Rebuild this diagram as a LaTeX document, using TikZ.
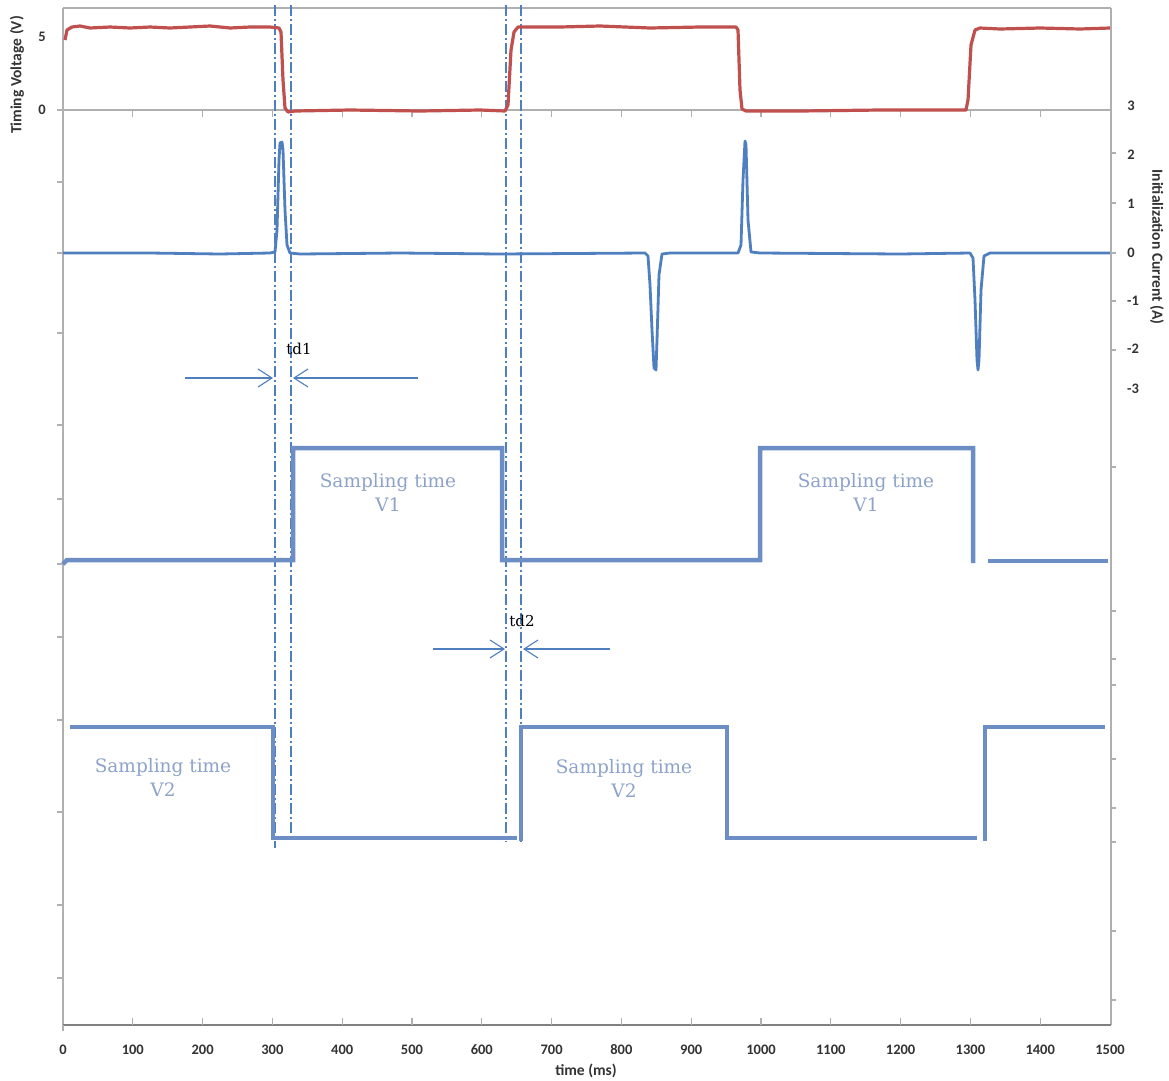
\documentclass[tikz,border=0pt]{standalone}
\usepackage{fontspec}
\setmainfont{Carlito}
\newfontfamily\serifA{DejaVu Serif}
\usetikzlibrary{arrows.meta}
\definecolor{axisgray}{HTML}{B0B0B0}
\definecolor{basegray}{HTML}{808080}
\definecolor{redv}{HTML}{C0504D}
\definecolor{bluec}{HTML}{4F7FBF}
\definecolor{bluesamp}{HTML}{6D8EC4}
\definecolor{txtblue}{HTML}{8DA3C9}
\definecolor{labgray}{HTML}{333333}
\definecolor{dashblue}{HTML}{4F7FBF}
\tikzset{
  axisline/.style={draw=axisgray, line width=1.6pt},
  baseline/.style={draw=basegray, line width=1.6pt},
  tickmark/.style={draw=axisgray, line width=1.2pt},
  ticklab/.style={font=\bfseries\fontsize{14.5}{16}\selectfont, text=labgray, inner sep=0pt},
  axtitle/.style={font=\bfseries\fontsize{15.5}{17}\selectfont, text=labgray, inner sep=0pt},
  voltwave/.style={draw=redv, line width=3.2pt, line join=round},
  curwave/.style={draw=bluec, line width=2.8pt, line join=round},
  sampwave/.style={draw=bluesamp, line width=4.5pt},
  guide/.style={draw=dashblue, line width=1.1pt, dash pattern=on 11pt off 3pt on 2pt off 3pt},
  tdarrow/.style={draw=bluec, line width=1.1pt, -{Straight Barb[length=14pt,width=18pt,line width=1.1pt]}},
  samptext/.style={font=\serifA\fontsize{18.5}{24}\selectfont, text=txtblue, align=center, inner sep=0pt},
  tdtext/.style={font=\serifA\fontsize{15}{18}\selectfont, text=black, inner sep=0pt}
}
\begin{document}
\begin{tikzpicture}[x=1pt,y=-1pt]
\useasboundingbox (0,0) rectangle (1169,1080);
\fill[white] (0,0) rectangle (1169,1080);

% frame and axes
\draw[axisline] (63,8) -- (1111,8);
\draw[axisline] (63,8) -- (63,1025);
\draw[axisline] (1111,8) -- (1111,1025);
\draw[axisline] (57,110) -- (1111,110);
\draw[baseline] (63,1025) -- (1111,1025);

% left ticks
\foreach \yy in {182,253,333,425,499,564,637,720,812,905,978}
  \draw[tickmark] (57,\yy) -- (63,\yy);
% right ticks
\foreach \yy in {153,203,253,301,350,467,611,659,685,759,808,842,931,1000}
  \draw[tickmark] (1111,\yy) -- (1116,\yy);
% bottom ticks
\foreach \i in {1,...,14}
  \draw[tickmark] ({63+69.8*\i},1025) -- ({63+69.8*\i},1018);
\draw[tickmark] (63,1025) -- (63,1031);
% ticks on voltage zero line
\foreach \i in {1,...,14}
  \draw[tickmark] ({63+69.8*\i},110) -- ({63+69.8*\i},117);

% tick labels
\node[ticklab] (v5) at (42,37) {5};
\node[ticklab] (v0) at (42,110) {0};
\node[ticklab] (c3) at (1131,106) {3};
\node[ticklab] (c2) at (1131,155) {2};
\node[ticklab] (c1) at (1131,204) {1};
\node[ticklab] (c0) at (1131,253) {0};
\node[ticklab] (cm1) at (1133,301) {-1};
\node[ticklab] (cm2) at (1133,349) {-2};
\node[ticklab] (cm3) at (1133,389) {-3};
\foreach \i in {0,...,15}{
  \pgfmathtruncatemacro{\lab}{100*\i}
  \node[ticklab] (t\i) at ({63+69.8*\i},1050) {\lab};
}
\node[axtitle] (xtitle) at (586,1071) {time (ms)};
\node[axtitle, rotate=90] (ltitle) at (17,75) {Timing Voltage (V)};
\node[axtitle, rotate=-90] (rtitle) at (1157,247) {Initialization Current (A)};

% guide lines (dash-dot)
\draw[guide] (275,5) -- (275,848);
\draw[guide] (291,5) -- (291,835);
\draw[guide] (506,5) -- (506,842);
\draw[guide] (521,5) -- (521,842);

% timing voltage (red)
\draw[voltwave] (65,40) -- (67,30) -- (72,27) -- (80,26) -- (90,28) -- (110,27) -- (130,28) -- (150,27) -- (170,28) -- (190,27) -- (210,26) -- (230,28) -- (250,27) -- (270,27) -- (279,28) -- (281,32) -- (283,80) -- (285,108) -- (288,112) -- (295,111) -- (350,110) -- (420,111) -- (480,110) -- (505,111) -- (508,105) -- (511,50) -- (514,32) -- (518,27) -- (560,27) -- (600,26) -- (650,28) -- (700,27) -- (736,27) -- (738,30) -- (740,90) -- (742,109) -- (746,111) -- (800,111) -- (880,110) -- (966,110) -- (968,100) -- (971,45) -- (975,30) -- (980,28) -- (1000,29) -- (1040,28) -- (1080,29) -- (1110,28);

% initialization current (blue)
\draw[curwave] (63,253) -- (150,253) -- (220,254) -- (270,253) -- (275,252) -- (277,230) -- (279,160) -- (280,143) -- (282,142) -- (283,150) -- (285,210) -- (287,245) -- (290,253) -- (300,254) -- (400,253) -- (500,254) -- (645,253) -- (648,256) -- (650,285) -- (652,330) -- (654,368) -- (656,370) -- (657,340) -- (659,275) -- (662,254) -- (670,253) -- (738,253) -- (741,245) -- (743,180) -- (745,141) -- (746,145) -- (748,220) -- (751,252) -- (760,253) -- (900,254) -- (970,253) -- (973,258) -- (975,300) -- (977,360) -- (978,370) -- (979,360) -- (981,290) -- (984,256) -- (990,253) -- (1110,253);

% td1 / td2 markers
\coordinate (a1s) at (185,378); \coordinate (a1e) at (273,378);
\coordinate (b1s) at (418,378); \coordinate (b1e) at (293,378);
\draw[tdarrow] (a1s) -- (a1e);
\draw[tdarrow] (b1s) -- (b1e);
\node[tdtext] (td1) at (299,349) {td1};
\coordinate (a2s) at (433,649); \coordinate (a2e) at (505,649);
\coordinate (b2s) at (610,649); \coordinate (b2e) at (523,649);
\draw[tdarrow] (a2s) -- (a2e);
\draw[tdarrow] (b2s) -- (b2e);
\node[tdtext] (td2) at (522,621) {td2};

% sampling V1
\draw[sampwave] (63,564) -- (67,560) -- (293,560) -- (293,448) -- (502,448) -- (502,560) -- (760,560) -- (760,448) -- (973,448) -- (973,563);
\draw[sampwave] (988,561) -- (1108,561);
% sampling V2
\draw[sampwave] (70,727) -- (273,727) -- (273,838) -- (517,838);
\draw[sampwave] (521,841) -- (521,727) -- (727,727) -- (727,838) -- (977,838);
\draw[sampwave] (985,841) -- (985,727) -- (1105,727);

% sampling texts
\node[samptext] (s1a) at (388,492) {Sampling time\\V1};
\node[samptext] (s1b) at (866,492) {Sampling time\\V1};
\node[samptext] (s2a) at (163,777) {Sampling time\\V2};
\node[samptext] (s2b) at (624,778) {Sampling time\\V2};
\end{tikzpicture}
\end{document}
